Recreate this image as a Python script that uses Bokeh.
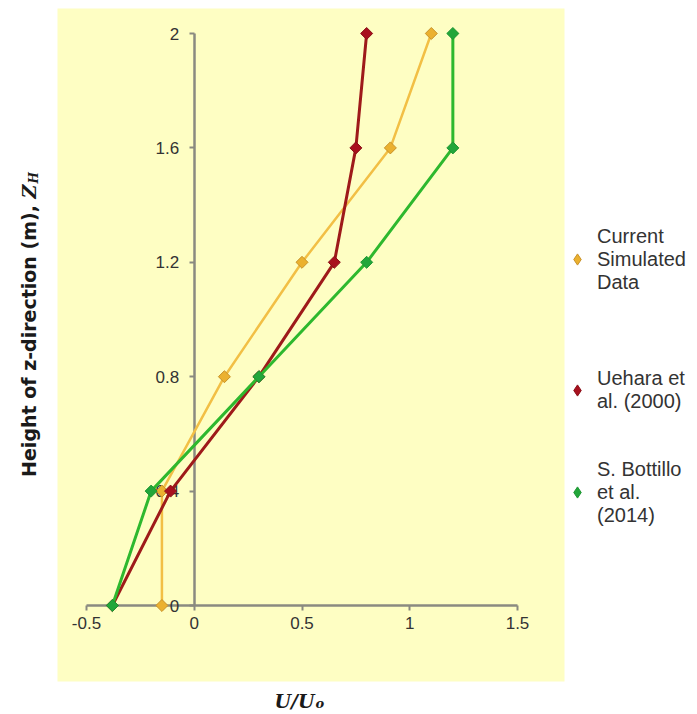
import numpy as np
from bokeh.plotting import figure
from bokeh.models import (Range1d, FixedTicker, Legend, LegendItem, Label, ColumnDataSource,
                          BoxAnnotation)
from bokeh.embed import file_html
from bokeh.resources import INLINE
from bokeh.core.properties import value

# ---- data ----
heights = [0.0, 0.4, 0.8, 1.2, 1.6, 2.0]
current_sim = [-0.15, -0.15, 0.14, 0.50, 0.91, 1.10]
uehara = [-0.38, -0.11, 0.30, 0.65, 0.75, 0.80]
bottillo = [-0.38, -0.20, 0.30, 0.80, 1.20, 1.20]
series_names = ["Current\nSimulated\nData", "Uehara et\nal. (2000)", "S. Bottillo\net al.\n(2014)"]
x_ticks = [-0.5, 0.0, 0.5, 1.0, 1.5]
x_tick_labels = ["-0.5", "0", "0.5", "1", "1.5"]
y_ticks = [0.0, 0.4, 0.8, 1.2, 1.6, 2.0]
y_tick_labels = ["0", "0.4", "0.8", "1.2", "1.6", "2"]

W, H = 696, 713
# pixel anchors of the plotting area inside the canvas
X0_PX, X1_PX = 86.0, 517.0     # x=-0.5 .. x=1.5
Y0_PX, Y1_PX = 605.0, 33.0     # y=0 .. y=2 (from top)
sx_per = (X1_PX - X0_PX) / (x_ticks[-1] - x_ticks[0])
sy_per = (Y0_PX - Y1_PX) / (y_ticks[-1] - y_ticks[0])
x_start = x_ticks[0] - X0_PX / sx_per
x_end = x_start + W / sx_per
y_start = y_ticks[0] - (H - Y0_PX) / sy_per
y_end = y_ticks[-1] + Y1_PX / sy_per

p = figure(width=W, height=H, output_backend="svg", toolbar_location=None,
           x_range=Range1d(x_start, x_end), y_range=Range1d(y_start, y_end),
           min_border_left=0, min_border_right=0, min_border_top=0, min_border_bottom=0,
           background_fill_color="white", border_fill_color="white", outline_line_color=None)
p.grid.visible = False

# pale yellow chart panel
panel = BoxAnnotation(left=57, right=564, top=H - 8, bottom=H - 681,
                      left_units="screen", right_units="screen", top_units="screen",
                      bottom_units="screen", fill_color="#FEFEC3", fill_alpha=1.0,
                      line_color=None, level="image")
p.add_layout(panel)

axis_col = "#8a8a80"
for ax in (p.xaxis[0], p.yaxis[0]):
    ax.fixed_location = 0
    ax.axis_line_color = axis_col
    ax.axis_line_width = 2.5
    ax.major_tick_line_color = axis_col
    ax.major_tick_line_width = 2
    ax.major_tick_out = 5
    ax.major_tick_in = 0
    ax.minor_tick_line_color = None
    ax.major_label_text_font = "Liberation Sans"
    ax.major_label_text_font_size = "17px"
    ax.major_label_text_color = "#333333"
    ax.level = "underlay"

p.xaxis.ticker = FixedTicker(ticks=x_ticks)
p.xaxis.bounds = (x_ticks[0], x_ticks[-1])
p.xaxis.major_label_overrides = {float(t): l for t, l in zip(x_ticks, x_tick_labels)}
p.xaxis.major_label_standoff = 6
p.yaxis.ticker = FixedTicker(ticks=y_ticks)
p.yaxis.bounds = (y_ticks[0], y_ticks[-1])
p.yaxis.major_label_overrides = {float(t): l for t, l in zip(y_ticks, y_tick_labels)}
p.yaxis.major_label_standoff = 10

src = ColumnDataSource(dict(h=heights, cur=current_sim, ueh=uehara, bot=bottillo))

styles = [
    ("cur", "#F2BF45", 2.5, "#EBB12F", "#C8922A"),
    ("ueh", "#9E1A1A", 3.0, "#A8101E", "#8A1018"),
    ("bot", "#2EB82E", 3.0, "#22A63A", "#1E9632"),
]
legend_rends = []
for col, lc, lw, fc, mc in styles:
    p.line(col, "h", source=src, line_color=lc, line_width=lw)
    p.scatter(col, "h", source=src, marker="square", angle=np.pi / 4, size=8.5,
              fill_color=fc, line_color=mc, line_width=1)
    # hidden twin used only for the legend key (diamond shape)
    lr = p.scatter(col, "h", source=src, marker="diamond", size=12,
                   fill_color=fc, line_color=mc, line_width=1, visible=False)
    legend_rends.append(lr)

# legends (screen positions, bottom-left of each legend box)
legend_locs = [(563, H - 295), (563, H - 414), (563, H - 528)]
glyph_h = [72, 48, 72]
for name, rend, loc, gh in zip(series_names, legend_rends, legend_locs, glyph_h):
    lg = Legend(items=[LegendItem(label=value(name), renderers=[rend])], location=loc,
                glyph_width=28, glyph_height=gh, label_standoff=6, padding=0, margin=0,
                spacing=0, background_fill_alpha=0, border_line_color=None,
                inactive_fill_alpha=0,
                label_text_font="Liberation Sans", label_text_font_size="20px",
                label_text_color="#333333", label_text_line_height=1.2)
    p.add_layout(lg, "center")

# axis titles
ycol = "#1a1a1a"
p.add_layout(Label(x=28, y=H - 198, x_units="screen", y_units="screen", angle=np.pi / 2,
                   text="Height of z-direction (m), ", text_align="right", text_baseline="middle",
                   text_font="DejaVu Sans", text_font_style="bold", text_font_size="19px",
                   text_color=ycol))
p.add_layout(Label(x=28, y=H - 198, x_units="screen", y_units="screen", angle=np.pi / 2,
                   text="Z", text_align="left", text_baseline="middle",
                   text_font="DejaVu Serif", text_font_style="bold italic", text_font_size="19px",
                   text_color=ycol))
p.add_layout(Label(x=33, y=H - 183, x_units="screen", y_units="screen", angle=np.pi / 2,
                   text="H", text_align="left", text_baseline="middle",
                   text_font="DejaVu Serif", text_font_style="bold italic", text_font_size="12px",
                   text_color=ycol))
p.add_layout(Label(x=314, y=H - 700, x_units="screen", y_units="screen",
                   text="U/U", text_align="right", text_baseline="alphabetic",
                   text_font="DejaVu Serif", text_font_style="bold italic", text_font_size="19px",
                   text_color=ycol))
p.add_layout(Label(x=315, y=H - 703, x_units="screen", y_units="screen",
                   text="o", text_align="left", text_baseline="alphabetic",
                   text_font="DejaVu Serif", text_font_style="bold italic", text_font_size="13px",
                   text_color=ycol))

open("out.html", "w").write(file_html(p, INLINE))
